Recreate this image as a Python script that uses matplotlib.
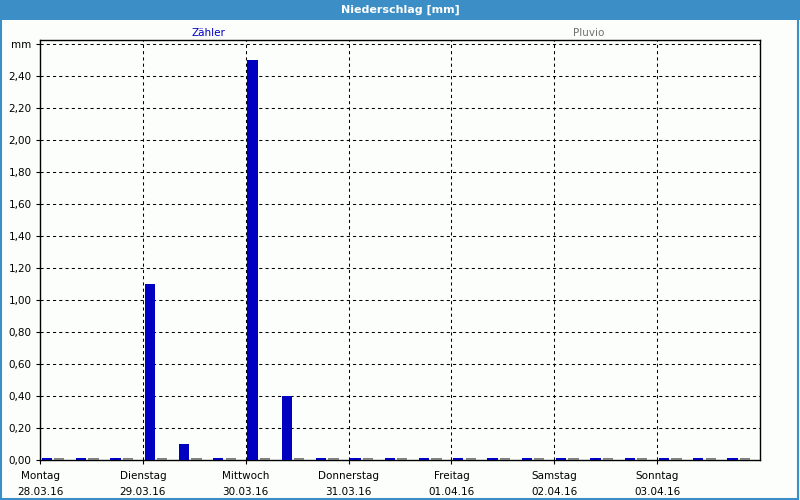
import numpy as np
import matplotlib.pyplot as plt
from matplotlib.patches import Rectangle

# 8-hour bins over one week (hours since Monday 00:00)
bin_start = np.arange(0, 168, 8)
zaehler = [0.0, 0.0, 0.0,
           1.10, 0.10, 0.0,
           2.50, 0.40, 0.0,
           0.0, 0.0, 0.0,
           0.0, 0.0, 0.0,
           0.0, 0.0, 0.0,
           0.0, 0.0, 0.0]
pluvio = [0.0] * 21

day_ticks = [0, 24, 48, 72, 96, 120, 144]
day_labels = ['Montag\n28.03.16', 'Dienstag\n29.03.16', 'Mittwoch\n30.03.16',
              'Donnerstag\n31.03.16', 'Freitag\n01.04.16', 'Samstag\n02.04.16',
              'Sonntag\n03.04.16']
y_ticks = [0.0, 0.2, 0.4, 0.6, 0.8, 1.0, 1.2, 1.4, 1.6, 1.8, 2.0, 2.2, 2.4, 2.6]
y_labels = ['0,00', '0,20', '0,40', '0,60', '0,80', '1,00', '1,20', '1,40',
            '1,60', '1,80', '2,00', '2,20', '2,40', 'mm']

plt.rcParams['font.family'] = 'DejaVu Sans'
bg = '#FCFEFC'
frame = '#3C8FC6'

fig = plt.figure(figsize=(8, 5), dpi=100, facecolor=bg)

# title bar and blue frame
fig.patches.append(Rectangle((0, 0.96), 1, 0.04, transform=fig.transFigure,
                             facecolor=frame, edgecolor='none', zorder=0))
fig.patches.append(Rectangle((0.001, 0.002), 0.997, 0.995, transform=fig.transFigure,
                             facecolor='none', edgecolor=frame, lw=1.5, zorder=0))
fig.text(0.5, 0.98, 'Niederschlag [mm]', color='white', fontweight='bold',
         fontsize=8, ha='center', va='center')
fig.text(0.261, 0.935, 'Zähler', color='#0000C0', fontsize=7.5, ha='center', va='center')
fig.text(0.736, 0.935, 'Pluvio', color='#707070', fontsize=7.5, ha='center', va='center')

ax = fig.add_axes([0.05, 0.08, 0.90, 0.84])
ax.set_facecolor(bg)

# tiny minimum height so zero bins stay visible
ax.bar(bin_start + 0.4, np.maximum(zaehler, 0.012), width=2.4, align='edge',
       color='#0000C0', zorder=3)
ax.bar(bin_start + 3.3, np.maximum(pluvio, 0.012), width=2.4, align='edge',
       color='#808080', zorder=3)

ax.set_xlim(0, 168)
ax.set_ylim(0, 2.625)
ax.set_xticks(day_ticks)
ax.set_xticklabels(day_labels, fontsize=7.5, linespacing=1.7)
ax.set_yticks(y_ticks)
ax.set_yticklabels(y_labels, fontsize=7.5)
ax.tick_params(axis='x', length=3, width=0.8, color='black', pad=5)
ax.tick_params(axis='y', length=3, width=0.8, color='black', pad=3)

for y in y_ticks[1:]:
    ax.axhline(y, color='black', lw=0.75, ls=(0, (3, 3)), zorder=1)
for x in day_ticks[1:]:
    ax.axvline(x, color='black', lw=0.75, ls=(0, (3, 3)), zorder=1)

for s in ax.spines.values():
    s.set_color('black')
    s.set_linewidth(1)

fig.savefig('out.png', dpi=100, facecolor=bg)
